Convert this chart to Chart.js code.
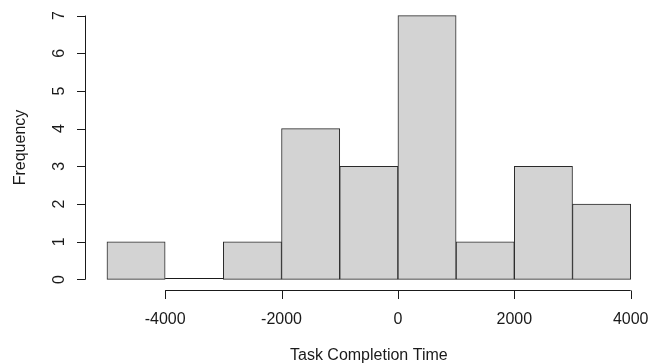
<!DOCTYPE html>
<html>
<head>
<meta charset="utf-8">
<script src="https://cdn.jsdelivr.net/npm/chart.js@4/dist/chart.umd.min.js"></script>
<style>
  html, body { margin: 0; padding: 0; background: #ffffff; }
  canvas { display: block; }
</style>
</head>
<body>
<canvas id="c" width="648" height="363"></canvas>
<script>
// ---- data ----
const binEdges = [-5000, -4000, -3000, -2000, -1000, 0, 1000, 2000, 3000, 4000];
const counts = [1, 0, 1, 4, 3, 7, 1, 3, 2];
const xTicks = [-4000, -2000, 0, 2000, 4000];
const yTicks = [0, 1, 2, 3, 4, 5, 6, 7];
const xTitle = 'Task Completion Time';
const yTitle = 'Frequency';

const FONT = '16px "Liberation Sans", Arial, sans-serif';
const INK = '#1a1a1a';

const barData = counts.map((c, i) => ({ x: (binEdges[i] + binEdges[i + 1]) / 2, y: c }));

const rAxes = {
  id: 'rAxes',
  afterDatasetsDraw(chart) {
    const ctx = chart.ctx;
    const xs = chart.scales.x, ys = chart.scales.y;
    const area = chart.chartArea;
    const tickLen = 8.5;
    ctx.save();
    ctx.strokeStyle = INK;
    ctx.lineWidth = 1;
    // zero-height bins drawn as a line
    counts.forEach((c, i) => {
      if (c === 0) {
        const y0 = Math.round(ys.getPixelForValue(0)) - 0.5;
        ctx.beginPath();
        ctx.moveTo(xs.getPixelForValue(binEdges[i]), y0);
        ctx.lineTo(xs.getPixelForValue(binEdges[i + 1]), y0);
        ctx.stroke();
      }
    });
    // x axis
    const ax = Math.round(area.bottom) + 0.5;
    ctx.beginPath();
    ctx.moveTo(xs.getPixelForValue(xTicks[0]), ax);
    ctx.lineTo(xs.getPixelForValue(xTicks[xTicks.length - 1]), ax);
    xTicks.forEach(t => {
      const px = Math.round(xs.getPixelForValue(t)) + 0.5;
      ctx.moveTo(px, ax);
      ctx.lineTo(px, ax + tickLen);
    });
    ctx.stroke();
    ctx.fillStyle = INK;
    ctx.font = FONT;
    ctx.textAlign = 'center';
    ctx.textBaseline = 'alphabetic';
    xTicks.forEach(t => {
      ctx.fillText(String(t), xs.getPixelForValue(t), ax + 33.5);
    });
    // R centres the title on the (padded) plot region
    const midVal = (binEdges[0] + binEdges[binEdges.length - 1]) / 2;
    ctx.fillText(xTitle, xs.getPixelForValue(midVal), 360);
    // y axis
    const ay = Math.round(area.left) - 0.5;
    ctx.beginPath();
    ctx.moveTo(ay, ys.getPixelForValue(yTicks[0]));
    ctx.lineTo(ay, ys.getPixelForValue(yTicks[yTicks.length - 1]));
    yTicks.forEach(t => {
      const py = Math.round(ys.getPixelForValue(t)) + 0.5;
      ctx.moveTo(ay, py);
      ctx.lineTo(ay - tickLen, py);
    });
    ctx.stroke();
    yTicks.forEach(t => {
      ctx.save();
      ctx.translate(64, ys.getPixelForValue(t));
      ctx.rotate(-Math.PI / 2);
      ctx.fillText(String(t), 0, 0);
      ctx.restore();
    });
    ctx.save();
    ctx.translate(25, (area.top + area.bottom) / 2);
    ctx.rotate(-Math.PI / 2);
    ctx.fillText(yTitle, 0, 0);
    ctx.restore();
    ctx.restore();
  }
};

new Chart(document.getElementById('c'), {
  type: 'bar',
  data: {
    datasets: [{
      data: barData,
      backgroundColor: '#d3d3d3',
      borderColor: '#2a2a2a',
      borderWidth: 1,
      borderSkipped: false,
      barThickness: 'flex',
      barPercentage: 1,
      categoryPercentage: 1
    }]
  },
  options: {
    responsive: false,
    animation: false,
    devicePixelRatio: 1,
    layout: { padding: { left: 86, top: 5, right: 1, bottom: 73 } },
    plugins: { legend: { display: false }, tooltip: { enabled: false } },
    scales: {
      x: { type: 'linear', min: -5360, max: 4280, display: false, offset: false },
      y: { type: 'linear', min: -0.28, max: 7.28, display: false }
    }
  },
  plugins: [rAxes]
});
</script>
</body>
</html>
